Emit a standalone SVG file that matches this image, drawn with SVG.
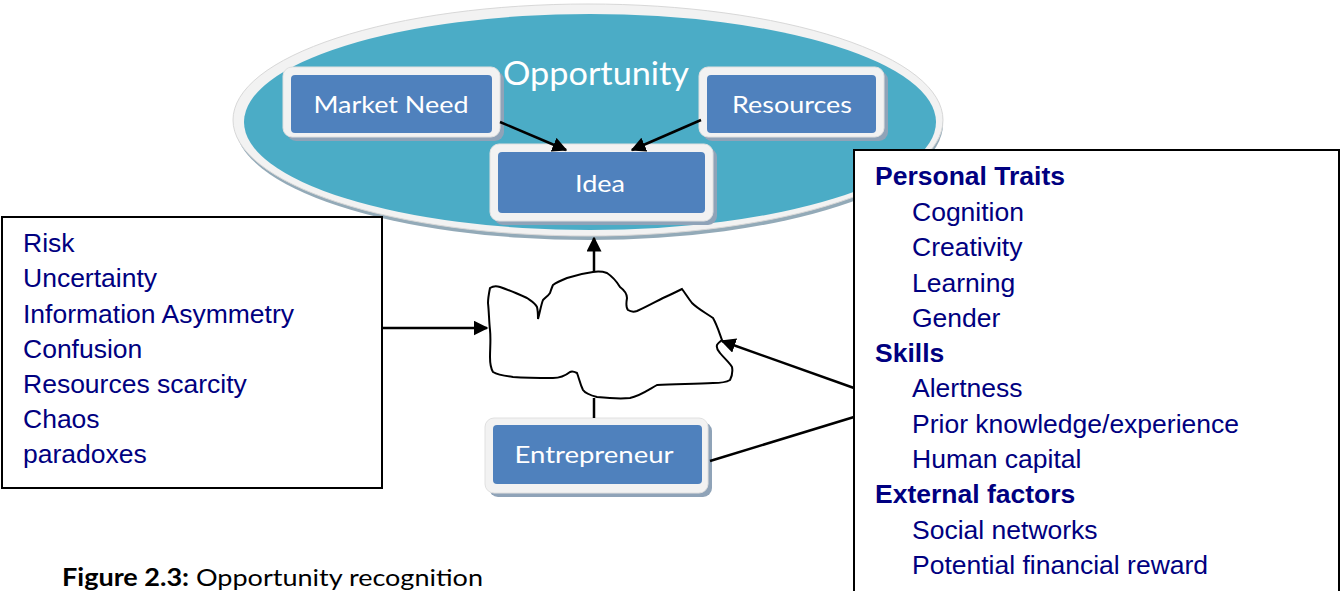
<svg xmlns="http://www.w3.org/2000/svg" width="1341" height="591" viewBox="0 0 1341 591">
<style>
.frame{fill:#F2F2F2;stroke:#E0E0E0;stroke-width:1}
.shadow{fill:#8FA3B8}
.inner{fill:#4F81BD}
.lbl{font-family:Lato,"Open Sans",sans-serif;fill:#FFFFFF;text-anchor:middle}
.list{font-family:"Liberation Sans",Arial,sans-serif;font-size:26.5px;fill:#000080}
.hd{font-weight:bold}
.box{fill:#FFFFFF;stroke:#000000;stroke-width:2}
.conn{stroke:#000000;stroke-width:2.5;fill:none}
</style>
<defs>
<marker id="ah" viewBox="0 0 10 10" refX="9" refY="5" markerWidth="6" markerHeight="6" markerUnits="strokeWidth" orient="auto">
<path d="M0,0 L10,5 L0,10 z" fill="#000000"/>
</marker>
</defs>
<rect x="0" y="0" width="1341" height="591" fill="#FFFFFF"/>

<g id="opportunity">
<ellipse cx="589" cy="124" rx="354" ry="116" fill="#93AAB8"/>
<ellipse cx="588" cy="120" rx="355" ry="116" fill="#F2F2F2" stroke="#D8D8D8" stroke-width="1"/>
<ellipse cx="590" cy="122" rx="346" ry="108" fill="#4BACC6"/>
<text class="lbl" x="596" y="85" font-size="33" textLength="186" lengthAdjust="spacingAndGlyphs">Opportunity</text>
</g>

<g id="market-need">
<rect class="shadow" x="287" y="71" width="217" height="70" rx="9"/>
<rect class="frame" x="283" y="67" width="217" height="70" rx="9"/>
<rect class="inner" x="291" y="75" width="201" height="58" rx="4"/>
<text class="lbl" x="391" y="113" font-size="24" textLength="155" lengthAdjust="spacingAndGlyphs">Market Need</text>
</g>

<g id="resources">
<rect class="shadow" x="703" y="71" width="185" height="70" rx="9"/>
<rect class="frame" x="699" y="67" width="185" height="70" rx="9"/>
<rect class="inner" x="707" y="75" width="169" height="58" rx="4"/>
<text class="lbl" x="792" y="113" font-size="24" textLength="120" lengthAdjust="spacingAndGlyphs">Resources</text>
</g>

<g id="idea">
<rect class="shadow" x="494" y="148" width="223" height="77" rx="9"/>
<rect class="frame" x="490" y="144" width="223" height="77" rx="9"/>
<rect class="inner" x="498" y="152" width="207" height="61" rx="4"/>
<text class="lbl" x="600" y="192" font-size="24" textLength="50" lengthAdjust="spacingAndGlyphs">Idea</text>
</g>

<g id="entrepreneur">
<rect class="shadow" x="489" y="422" width="223" height="75" rx="9"/>
<rect class="frame" x="485" y="418" width="223" height="75" rx="9"/>
<rect class="inner" x="493" y="425" width="209" height="59" rx="4"/>
<text class="lbl" x="594" y="463" font-size="24" textLength="159" lengthAdjust="spacingAndGlyphs">Entrepreneur</text>
</g>

<g id="cloud">
<path d="M593,272 C600,271 604,272 607,273 C613,277 617,282 620,287 C624,290 627,293 627,298 C626,304 626,308 628,310 C631,312 634,312 637,311 C646,307 655,302 663,298 C670,295 676,292 682,289 C685,293 688,298 692,303 C698,309 706,313 713,318 C717,325 719,332 722,340 C720,342 718,343 717,345 C716,349 718,351 720,353 C724,358 729,362 732,367 C733,372 732,376 730,380 C725,383 719,383 713,383 C695,384 675,384 657,385 C648,390 640,396 630,398 C619,399 607,398 597,397 C589,395 585,393 583,390 C580,384 579,378 577,373 C575,372 572,371 570,372 C565,376 559,378 553,378 C540,378 527,378 513,377 C505,376 498,375 493,372 C490,367 490,362 490,357 C490,348 491,339 490,330 C489,321 489,312 488,303 C488,298 489,293 490,288 C493,286 497,286 500,287 C509,290 518,294 527,298 C531,301 535,303 537,307 C538,311 538,315 538,319 C540,312 541,305 543,300 C546,297 548,296 550,293 C551,290 552,287 553,285 C557,282 562,280 567,278 C576,275 585,273 593,272 Z" fill="#FFFFFF" stroke="#000000" stroke-width="2"/>
</g>

<g id="risk-box">
<rect class="box" x="2" y="217" width="380" height="271"/>
<text class="list" x="23" y="252">Risk</text>
<text class="list" x="23" y="287">Uncertainty</text>
<text class="list" x="23" y="323">Information Asymmetry</text>
<text class="list" x="23" y="358">Confusion</text>
<text class="list" x="23" y="393">Resources scarcity</text>
<text class="list" x="23" y="428">Chaos</text>
<text class="list" x="23" y="463">paradoxes</text>
</g>

<g id="factors-box">
<rect class="box" x="854" y="150" width="485" height="450"/>
<text class="list hd" x="875" y="185">Personal Traits</text>
<text class="list" x="912" y="221">Cognition</text>
<text class="list" x="912" y="256">Creativity</text>
<text class="list" x="912" y="292">Learning</text>
<text class="list" x="912" y="327">Gender</text>
<text class="list hd" x="875" y="362">Skills</text>
<text class="list" x="912" y="397">Alertness</text>
<text class="list" x="912" y="433">Prior knowledge/experience</text>
<text class="list" x="912" y="468">Human capital</text>
<text class="list hd" x="875" y="503">External factors</text>
<text class="list" x="912" y="539">Social networks</text>
<text class="list" x="912" y="574">Potential financial reward</text>
</g>

<g id="connectors">
<line class="conn" x1="500" y1="122" x2="566" y2="150" marker-end="url(#ah)"/>
<line class="conn" x1="701" y1="120" x2="632" y2="150" marker-end="url(#ah)"/>
<line class="conn" x1="594" y1="272" x2="594" y2="238" marker-end="url(#ah)"/>
<line class="conn" x1="594" y1="418" x2="594" y2="398"/>
<line class="conn" x1="382" y1="328" x2="487" y2="328" marker-end="url(#ah)"/>
<line class="conn" x1="854" y1="388" x2="722" y2="341" marker-end="url(#ah)"/>
<line class="conn" x1="710" y1="461" x2="854" y2="417"/>
</g>

<g id="caption">
<text x="62" y="586" font-family="Lato,'Open Sans',sans-serif" font-size="24" fill="#000000" textLength="421" lengthAdjust="spacingAndGlyphs"><tspan font-weight="bold">Figure 2.3:</tspan> Opportunity recognition</text>
</g>
</svg>
